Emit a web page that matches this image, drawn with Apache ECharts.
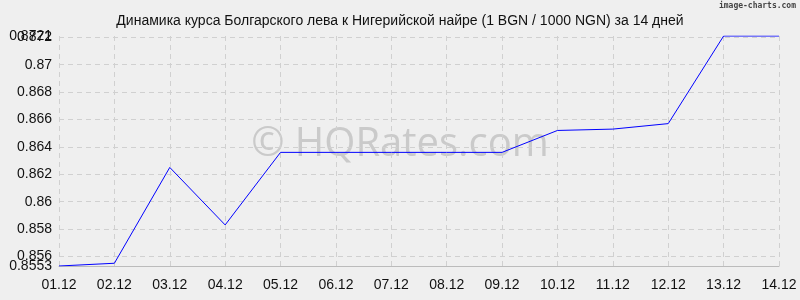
<!DOCTYPE html>
<html>
<head>
<meta charset="utf-8">
<script src="https://cdn.jsdelivr.net/npm/echarts@6/dist/echarts.min.js"></script>
<style>
html,body{margin:0;padding:0;background:#efefef;}
#c{width:800px;height:300px;}
</style>
</head>
<body>
<div id="c"></div>
<script>
const categories = ['01.12','02.12','03.12','04.12','05.12','06.12','07.12','08.12','09.12','10.12','11.12','12.12','13.12','14.12'];
const rates = [0.8553, 0.8555, 0.8625, 0.8583, 0.8636, 0.8636, 0.8636, 0.8636, 0.8636, 0.8652, 0.8653, 0.8657, 0.8721, 0.8721];
const yTicks = [0.856, 0.858, 0.86, 0.862, 0.864, 0.866, 0.868, 0.87, 0.872];
const yEdgeTicks = [0.8553, 0.8721];
const yMin = 0.8553;
const yMax = 0.8721;
const titleText = 'Динамика курса Болгарского лева к Нигерийской найре (1 BGN / 1000 NGN) за 14 дней';

const labelStyle = {color: '#111', fontSize: 14, fontFamily: 'Liberation Sans, Arial', margin: 7,
  formatter: v => String(parseFloat(Number(v).toFixed(4)))};
const gridLine = {show: true, lineStyle: {color: '#d0d0d0', type: [5, 4], width: 1}};

const chart = echarts.init(document.getElementById('c'));
chart.setOption({
  backgroundColor: '#efefef',
  animation: false,
  title: {
    text: titleText,
    left: 'center',
    top: 9,
    textStyle: {fontFamily: 'Liberation Sans, Arial', fontSize: 14, fontWeight: 'normal', color: '#111'}
  },
  graphic: [
    {
      type: 'text', left: 'center', top: 125, z: 0, silent: true,
      style: {text: '© HQRates.com', fontFamily: 'Open Sans, Liberation Sans', fontSize: 40, fill: '#cacaca'}
    },
    {
      type: 'text', right: 4, top: 2, z: 10,
      style: {text: 'image-charts.com', fontFamily: 'DejaVu Sans Mono', fontSize: 8, fontWeight: 'bold', fill: '#444'}
    }
  ],
  grid: {left: 59, right: 21, top: 36, bottom: 34, containLabel: false},
  xAxis: {
    type: 'category',
    data: categories,
    boundaryGap: false,
    axisLine: {show: true, lineStyle: {color: '#bbb', width: 1}},
    axisTick: {show: false},
    axisLabel: {color: '#111', fontSize: 14, fontFamily: 'Liberation Sans, Arial', margin: 12},
    splitLine: gridLine
  },
  yAxis: [
    {
      type: 'value', min: yMin, max: yMax, position: 'left',
      axisLine: {show: false},
      axisTick: {show: false, customValues: yTicks},
      axisLabel: Object.assign({customValues: yTicks, showMinLabel: true, showMaxLabel: true}, labelStyle),
      splitLine: gridLine
    },
    {
      type: 'value', min: yMin, max: yMax, position: 'left', offset: 0,
      axisLine: {show: false},
      axisTick: {show: false, customValues: yEdgeTicks},
      axisLabel: Object.assign({customValues: yEdgeTicks, showMinLabel: true, showMaxLabel: true}, labelStyle),
      splitLine: {show: false}
    }
  ],
  series: [{
    type: 'line',
    data: rates,
    yAxisIndex: 0,
    showSymbol: false,
    symbol: 'none',
    lineStyle: {color: '#0000ff', width: 1},
    z: 5
  }]
});
</script>
</body>
</html>
